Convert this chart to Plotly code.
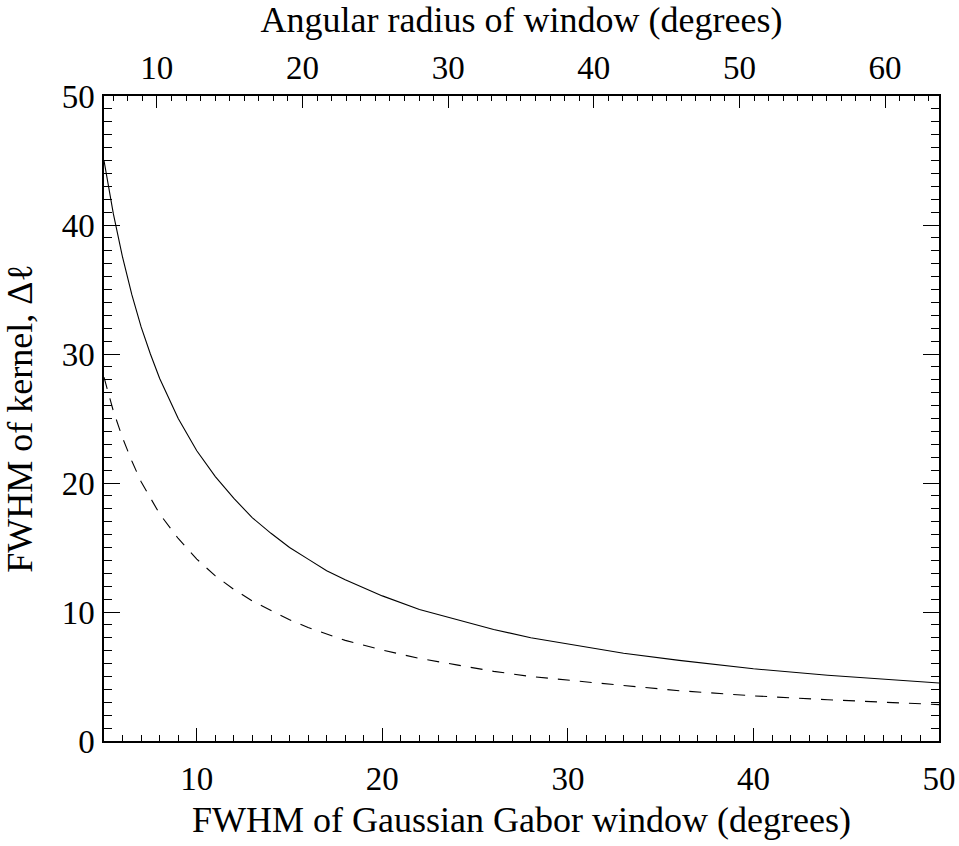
import plotly.graph_objects as go

# FWHM of Gaussian Gabor window (degrees)
fwhm_window = [5, 5.5, 6, 6.5, 7, 7.5, 8, 9, 10, 11, 12, 13, 14, 15, 16, 17, 18,
               20, 22, 24, 26, 28, 30, 33, 36, 40, 44, 47, 50]
# FWHM of kernel (solid)
kernel_solid = [45.0, 40.9, 37.5, 34.6, 32.1, 30.0, 28.1, 25.0, 22.5, 20.5, 18.8,
                17.3, 16.1, 15.0, 14.1, 13.2, 12.5, 11.25, 10.2, 9.4, 8.65, 8.0,
                7.5, 6.8, 6.25, 5.6, 5.1, 4.8, 4.5]
# FWHM of kernel (dashed)
kernel_dashed = [28.2, 25.6, 23.5, 21.7, 20.1, 18.8, 17.6, 15.7, 14.1, 12.8, 11.75,
                 10.85, 10.1, 9.4, 8.8, 8.3, 7.8, 7.05, 6.4, 5.9, 5.4, 5.0, 4.7,
                 4.3, 3.9, 3.5, 3.2, 3.0, 2.82]

x_range = [5, 50]
top_range = [6.37, 63.7]
y_range = [0, 50]
x_ticks = [10, 20, 30, 40, 50]
top_ticks = [10, 20, 30, 40, 50, 60]
y_ticks = [0, 10, 20, 30, 40, 50]

FONT = "Liberation Serif"
fsize = 33
tsize = 36

fig = go.Figure()
fig.add_trace(go.Scatter(x=fwhm_window, y=kernel_solid, mode="lines",
                         line=dict(color="black", width=1.1), showlegend=False))
fig.add_trace(go.Scatter(x=fwhm_window, y=kernel_dashed, mode="lines",
                         line=dict(color="black", width=1.1, dash="12px,10px"),
                         showlegend=False))
# empty trace so the top (angular radius) axis is drawn
fig.add_trace(go.Scatter(x=top_ticks, y=[None] * len(top_ticks), xaxis="x2",
                         mode="lines", showlegend=False, hoverinfo="skip"))

axis_common = dict(showgrid=False, zeroline=False, showline=True,
                   linecolor="black", linewidth=1.5, ticks="inside",
                   tickcolor="black", tickwidth=1.2, automargin=False,
                   tickfont=dict(family=FONT, size=fsize, color="black"))

fig.update_layout(
    width=959, height=846,
    margin=dict(l=104, r=20, t=96, b=105),
    paper_bgcolor="white", plot_bgcolor="white",
    font=dict(family=FONT, size=fsize, color="black"),
    xaxis=dict(range=x_range, tickvals=x_ticks, ticklen=13, ticklabelstandoff=8,
               minor=dict(dtick=1, ticks="inside", ticklen=6, tickcolor="black", tickwidth=1),
               title=dict(text="FWHM of Gaussian Gabor window (degrees)",
                          font=dict(family=FONT, size=tsize), standoff=10),
               mirror=False, **axis_common),
    xaxis2=dict(range=top_range, tickvals=top_ticks, ticklen=12, overlaying="x",
                side="top", anchor="y", ticklabelstandoff=2,
                minor=dict(dtick=1, ticks="inside", ticklen=5, tickcolor="black", tickwidth=1),
                title=dict(text="Angular radius of window (degrees)",
                           font=dict(family=FONT, size=tsize), standoff=8),
                **axis_common),
    yaxis=dict(range=y_range, tickvals=y_ticks, ticklen=16, mirror="ticks",
               ticklabelstandoff=1,
               minor=dict(dtick=1, ticks="inside", ticklen=8, tickcolor="black", tickwidth=1),
               title=dict(text="FWHM of kernel, Δℓ",
                          font=dict(family=FONT, size=tsize), standoff=18),
               **axis_common),
)

fig.write_html("out.html")
